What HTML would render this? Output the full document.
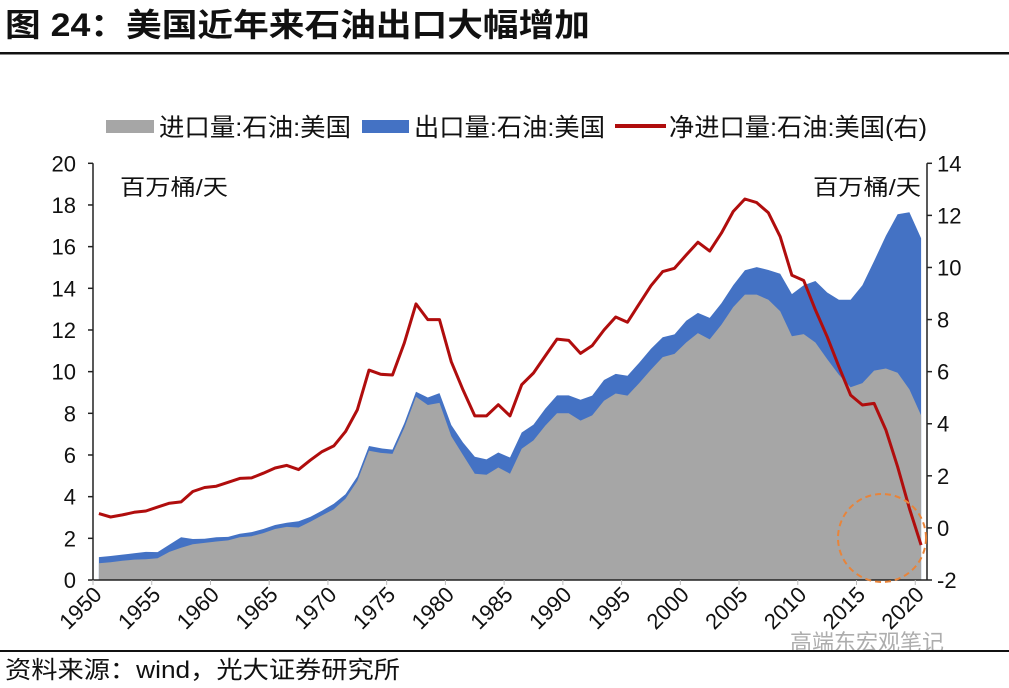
<!DOCTYPE html>
<html><head><meta charset="utf-8">
<style>
html,body{margin:0;padding:0;background:#fff;}
body{width:1009px;height:688px;overflow:hidden;position:relative;font-family:"Liberation Sans","Noto Sans CJK SC",sans-serif;}
</style></head>
<body>
<svg width="1009" height="688" viewBox="0 0 1009 688" style="position:absolute;left:0;top:0">
<text x="5" y="36" font-size="32" font-weight="bold" fill="#111" textLength="585" lengthAdjust="spacingAndGlyphs" font-family="'Liberation Sans','Noto Sans CJK SC',sans-serif">图 24：美国近年来石油出口大幅增加</text>
<rect x="0" y="52" width="1009" height="2.5" fill="#111"/>
<g id="legend" font-size="25" font-family="'Liberation Sans','Noto Sans CJK SC',sans-serif" fill="#111">
<g><rect x="106" y="120" width="48" height="13" fill="#a6a6a6"/><text x="159" y="136" textLength="192" lengthAdjust="spacingAndGlyphs">进口量:石油:美国</text></g>
<g><rect x="362" y="120" width="47" height="13" fill="#4472c4"/><text x="414" y="136" textLength="191" lengthAdjust="spacingAndGlyphs">出口量:石油:美国</text></g>
<g><rect x="615" y="124" width="51" height="4" fill="#b00d0d"/><text x="669" y="136" textLength="258" lengthAdjust="spacingAndGlyphs">净进口量:石油:美国(右)</text></g>
</g>
<g id="plot"></g>
<text x="120" y="195" font-size="22" fill="#111" textLength="108" lengthAdjust="spacingAndGlyphs">百万桶/天</text>
<text x="813" y="195" font-size="22" fill="#111" textLength="108" lengthAdjust="spacingAndGlyphs">百万桶/天</text>
<circle cx="882" cy="538" r="44" fill="none" stroke="#e8843a" stroke-width="2" stroke-dasharray="6,4"/>
<text x="790" y="650" font-size="22" fill="#999" opacity="0.8">高端东宏观笔记</text>
<rect x="0" y="650" width="1009" height="2" fill="#111"/>
<text x="5" y="678" font-size="24" fill="#111" textLength="395" lengthAdjust="spacingAndGlyphs">资料来源：wind，光大证券研究所</text>
</svg>
<script>
const years = [];
for (let y = 1950; y <= 2020; y++) years.push(y);
const imports = [0.80,0.85,0.92,0.98,1.0,1.04,1.35,1.55,1.72,1.78,
1.85,1.9,2.05,2.1,2.25,2.45,2.55,2.52,2.8,3.1,
3.4,3.9,4.75,6.2,6.1,6.05,7.3,8.8,8.4,8.5,
6.9,6.0,5.1,5.05,5.4,5.1,6.3,6.7,7.4,8.0,
8.0,7.65,7.9,8.6,8.95,8.85,9.45,10.1,10.7,10.85,
11.4,11.85,11.55,12.25,13.1,13.7,13.7,13.45,12.9,11.7,
11.8,11.4,10.6,9.85,9.25,9.45,10.05,10.15,9.95,9.15,7.9];
const exportsArr = [0.3,0.3,0.3,0.3,0.35,0.3,0.35,0.5,0.25,0.2,
0.2,0.17,0.17,0.2,0.2,0.19,0.2,0.3,0.23,0.23,
0.26,0.22,0.22,0.23,0.22,0.21,0.22,0.24,0.36,0.47,
0.54,0.6,0.82,0.74,0.72,0.78,0.78,0.76,0.82,0.86,
0.86,1.0,0.95,1.0,0.94,0.95,0.98,1.0,0.95,0.94,
1.04,0.97,1.03,1.03,1.05,1.17,1.32,1.43,1.8,2.02,
2.35,2.95,3.2,3.6,4.2,4.7,5.26,6.37,7.6,8.5,8.5];
const netImports = [0.55,0.42,0.5,0.6,0.65,0.8,0.95,1.0,1.4,1.55,
1.6,1.75,1.9,1.92,2.1,2.3,2.4,2.24,2.6,2.93,
3.15,3.7,4.53,6.06,5.9,5.87,7.1,8.6,8.0,8.0,
6.38,5.3,4.3,4.3,4.73,4.3,5.5,5.95,6.6,7.25,
7.2,6.7,7.0,7.6,8.1,7.9,8.6,9.3,9.84,9.97,
10.48,10.97,10.63,11.32,12.15,12.63,12.49,12.1,11.18,9.7,
9.5,8.37,7.34,6.19,5.1,4.72,4.78,3.76,2.35,0.75,-0.66];
const leftTicks = [0,2,4,6,8,10,12,14,16,18,20];
const rightTicks = [-2,0,2,4,6,8,10,12,14];
const xTickYears = [1950,1955,1960,1965,1970,1975,1980,1985,1990,1995,2000,2005,2010,2015,2020];

const NS = 'http://www.w3.org/2000/svg';
const plot = document.getElementById('plot');
const L = 93, R = 927, T = 163.3, B = 580;
const step = (R - L) / years.length;
const xPos = i => L + (i + 0.5) * step;
const yL = v => B - (v - 0) / 20 * (B - T);
const yR = v => B - (v + 2) / 16 * (B - T);
function mk(tag, attrs) { const e = document.createElementNS(NS, tag); for (const k in attrs) e.setAttribute(k, attrs[k]); plot.appendChild(e); return e; }

let dTot = 'M' + xPos(0) + ',' + B;
years.forEach((y, i) => { dTot += ' L' + xPos(i).toFixed(1) + ',' + yL(imports[i] + exportsArr[i]).toFixed(1); });
dTot += ' L' + xPos(years.length - 1) + ',' + B + ' Z';
const exA = mk('path', { d: dTot, fill: '#4472c4' });



let dImp = 'M' + xPos(0) + ',' + B;
years.forEach((y, i) => { dImp += ' L' + xPos(i).toFixed(1) + ',' + yL(imports[i]).toFixed(1); });
dImp += ' L' + xPos(years.length - 1) + ',' + B + ' Z';
const imA = mk('path', { d: dImp, fill: '#a6a6a6' });



const ax = mk('path', { d: `M${L},${T} L${L},${B} L${R},${B} M${R},${T} L${R},${B}`, stroke: '#222', 'stroke-width': 1.5, fill: 'none' });



leftTicks.forEach(v => {
  const y = yL(v);
  const tk = mk('line', { x1: L - 5, x2: L, y1: y, y2: y, stroke: '#222', 'stroke-width': 1.5 });
  
  
  const t = mk('text', { x: 76, y: y + 8, 'font-size': 22, 'text-anchor': 'end', fill: '#111' });
  t.textContent = v;
  
  
});
rightTicks.forEach(v => {
  const y = yR(v);
  const tk = mk('line', { x1: R, x2: R + 5, y1: y, y2: y, stroke: '#222', 'stroke-width': 1.5 });
  
  
  const t = mk('text', { x: 937, y: y + 8, 'font-size': 22, 'text-anchor': 'start', fill: '#111' });
  t.textContent = v;
  
  
});
xTickYears.forEach(yr => {
  const i = yr - years[0];
  const x = L + i * step;
  const tk = mk('line', { x1: x, x2: x, y1: B, y2: B + 5, stroke: '#bbb', 'stroke-width': 1 });
  
  
  const tx = x + 10, ty = B + 16;
  const t = mk('text', { x: tx, y: ty, 'font-size': 22, 'text-anchor': 'end', fill: '#111', transform: `rotate(-45 ${tx} ${ty})` });
  t.textContent = yr;
  
  
});

let dNet = '';
years.forEach((y, i) => { dNet += (i ? ' L' : 'M') + xPos(i).toFixed(1) + ',' + yR(netImports[i]).toFixed(1); });
const nl = mk('path', { d: dNet, stroke: '#b00d0d', 'stroke-width': 3, fill: 'none', 'stroke-linejoin': 'round' });


</script>
</body></html>
